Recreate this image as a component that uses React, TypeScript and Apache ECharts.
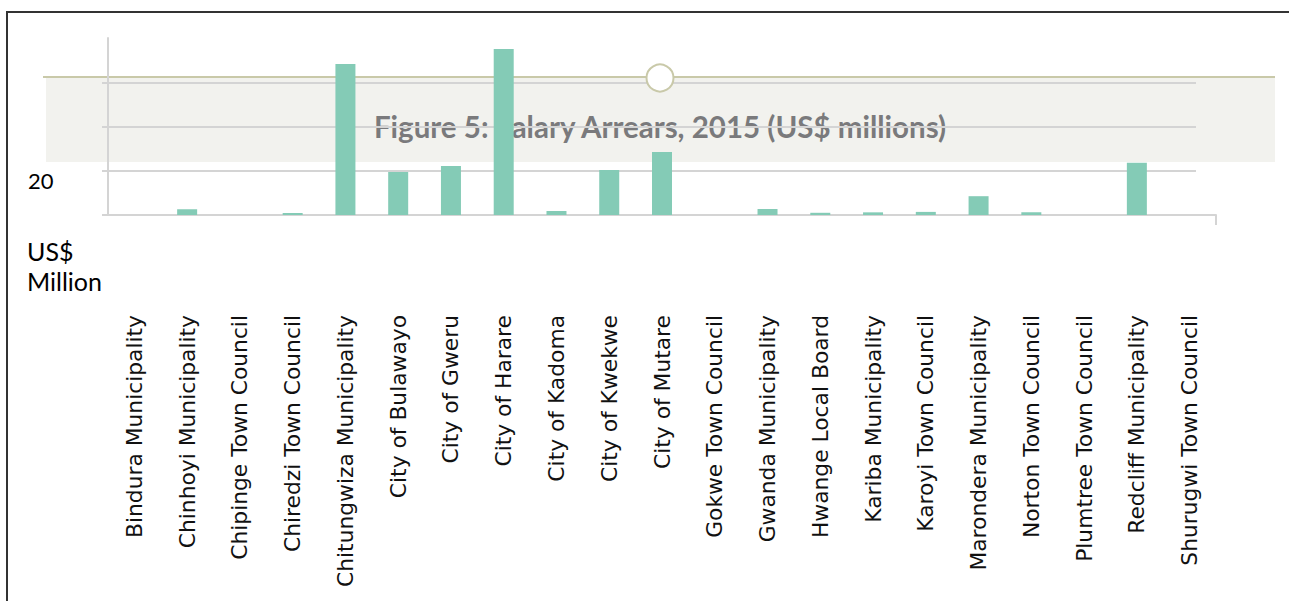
import React, { useEffect, useRef } from "react";
import * as echarts from "echarts";

const categories = [
  "Bindura Municipality",
  "Chinhoyi Municipality",
  "Chipinge Town Council",
  "Chiredzi Town Council",
  "Chitungwiza Municipality",
  "City of Bulawayo",
  "City of Gweru",
  "City of Harare",
  "City of Kadoma",
  "City of Kwekwe",
  "City of Mutare",
  "Gokwe Town Council",
  "Gwanda Municipality",
  "Hwange Local Board",
  "Kariba Municipality",
  "Karoyi Town Council",
  "Marondera Municipality",
  "Norton Town Council",
  "Plumtree Town Council",
  "Redcliff Municipality",
  "Shurugwi Town Council",
];

const arrears = [
  0, 2.6, 0, 0.9, 68.2, 19.4, 22.1, 75.0, 1.8, 20.3, 28.5, 0, 2.7, 1.0, 1.2, 1.4, 8.5, 1.2, 0, 23.6, 0,
];

const titleText = "Figure 5: Salary Arrears, 2015 (US$ millions)";
const tickLabel = "20";
const unitLines = ["US$", "Million"];

export default function App() {
  const ref = useRef<HTMLDivElement>(null);
  useEffect(() => {
    if (!ref.current) return;
    const chart = echarts.init(ref.current, null, { renderer: "svg" });
    const gridColor = "#d4d4d4";
    chart.setOption({
      animation: false,
      backgroundColor: "#ffffff",
      grid: [
        { left: 108, right: 73, top: 38, bottom: 386 },
        { left: 108, right: 93, top: 82.25, bottom: 386 },
      ],
      xAxis: [
        {
          type: "category",
          gridIndex: 0,
          data: categories,
          z: 3,
          axisLine: { show: true, lineStyle: { color: gridColor, width: 2 } },
          axisTick: { show: false },
          axisLabel: {
            rotate: 90,
            margin: 100,
            interval: 0,
            fontSize: 21.8,
            fontFamily: "DejaVu Sans",
            color: "#111",
          },
          splitLine: { show: false },
        },
        { type: "value", gridIndex: 1, min: 0, max: 1, show: false },
      ],
      yAxis: [
        {
          type: "value",
          gridIndex: 0,
          min: 0,
          max: 80,
          interval: 20,
          z: 3,
          axisLine: { show: true, lineStyle: { color: gridColor, width: 2 } },
          axisTick: { show: false },
          axisLabel: { show: false },
          splitLine: { show: false },
        },
        {
          type: "value",
          gridIndex: 1,
          min: 0,
          max: 60,
          interval: 20,
          z: 3,
          axisLine: { show: false },
          axisTick: { show: true, length: 6, lineStyle: { color: gridColor, width: 2 } },
          axisLabel: { show: false },
          splitLine: { show: true, lineStyle: { color: gridColor, width: 2 } },
        },
      ],
      series: [
        {
          type: "bar",
          xAxisIndex: 0,
          yAxisIndex: 0,
          data: arrears,
          barWidth: 20,
          z: 5,
          itemStyle: { color: "#84cbb6" },
        },
      ],
      graphic: [
        {
          type: "rect",
          z: 1,
          shape: { x: 46, y: 77, width: 1229, height: 85 },
          style: { fill: "#f2f2ee" },
        },
        {
          type: "line",
          z: 1,
          shape: { x1: 43, y1: 77, x2: 1275, y2: 77 },
          style: { stroke: "#c9c9a9", lineWidth: 2 },
        },
        {
          type: "text",
          z: 2,
          x: 660,
          y: 126,
          style: {
            text: titleText,
            fontFamily: "Lato",
            fontWeight: "bold",
            fontSize: 29.5,
            fill: "#7a7a7c",
            align: "center",
            verticalAlign: "middle",
          },
        },
        {
          type: "circle",
          z: 4,
          shape: { cx: 660, cy: 78, r: 13.5 },
          style: { fill: "#ffffff", stroke: "#c9c9a9", lineWidth: 2 },
        },
        {
          type: "line",
          z: 4,
          shape: { x1: 1216, y1: 215, x2: 1216, y2: 225 },
          style: { stroke: gridColor, lineWidth: 2 },
        },
        {
          type: "line",
          z: 6,
          shape: { x1: 7, y1: 12, x2: 1289, y2: 12 },
          style: { stroke: "#333333", lineWidth: 2 },
        },
        {
          type: "line",
          z: 6,
          shape: { x1: 7, y1: 11, x2: 7, y2: 601 },
          style: { stroke: "#333333", lineWidth: 2 },
        },
        {
          type: "text",
          z: 6,
          x: 28,
          y: 180,
          style: { text: tickLabel, fontFamily: "Lato", fontSize: 22, fill: "#000", verticalAlign: "middle" },
        },
        {
          type: "text",
          z: 6,
          x: 27,
          y: 236,
          style: {
            text: unitLines.join("\n"),
            fontFamily: "Lato",
            fontSize: 25,
            lineHeight: 30,
            fill: "#000",
            verticalAlign: "top",
          },
        },
      ],
    });
    return () => chart.dispose();
  }, []);
  return (
    <div
      ref={ref}
      style={{ position: "absolute", left: 0, top: 0, width: 1289, height: 601 }}
    />
  );
}
